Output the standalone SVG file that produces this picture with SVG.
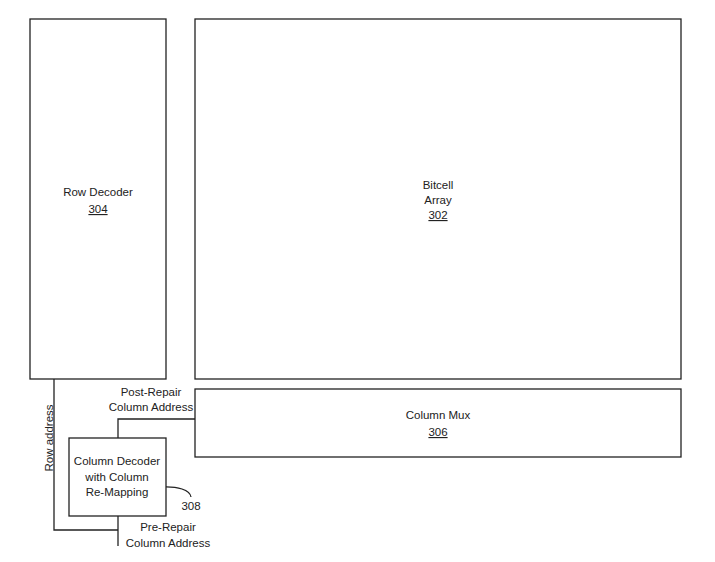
<svg xmlns="http://www.w3.org/2000/svg" width="715" height="562" viewBox="0 0 715 562">
<style>
.box{fill:#fff;stroke:#222;stroke-width:1.3}
.ln{fill:none;stroke:#222;stroke-width:1.3}
text{font-family:"Liberation Sans",Arial,sans-serif;font-size:11.5px;fill:#222;text-anchor:middle}
.u{text-decoration:underline}
</style>
<rect width="715" height="562" fill="#fff"/>
<g id="connectors">
<polyline class="ln" points="54,379 54,530 118,530"/>
<line class="ln" x1="118" y1="516" x2="118" y2="546"/>
<polyline class="ln" points="118,438 118,419 195,419"/>
<path class="ln" d="M161,487 C178,486 190,490 191,497"/>
</g>
<g id="row-decoder">
<rect class="box" x="30" y="19" width="136" height="360"/>
<text x="98" y="196">Row Decoder</text>
<text x="98" y="213" class="u">304</text>
</g>
<g id="bitcell-array">
<rect class="box" x="195" y="19" width="486" height="360"/>
<text x="438" y="189">Bitcell</text>
<text x="438" y="204">Array</text>
<text x="438" y="219" class="u">302</text>
</g>
<g id="column-mux">
<rect class="box" x="195" y="389" width="486" height="68"/>
<text x="438" y="419">Column Mux</text>
<text x="438" y="436" class="u">306</text>
</g>
<g id="column-decoder">
<rect class="box" x="69" y="438" width="97" height="78"/>
<text x="117" y="465">Column Decoder</text>
<text x="117" y="481">with Column</text>
<text x="117" y="496">Re-Mapping</text>
</g>
<g id="labels">
<text x="191" y="510">308</text>
<text x="151" y="396">Post-Repair</text>
<text x="151" y="411">Column Address</text>
<text x="168" y="531">Pre-Repair</text>
<text x="168" y="547">Column Address</text>
<text transform="translate(53,438) rotate(-90)">Row address</text>
</g>
</svg>
